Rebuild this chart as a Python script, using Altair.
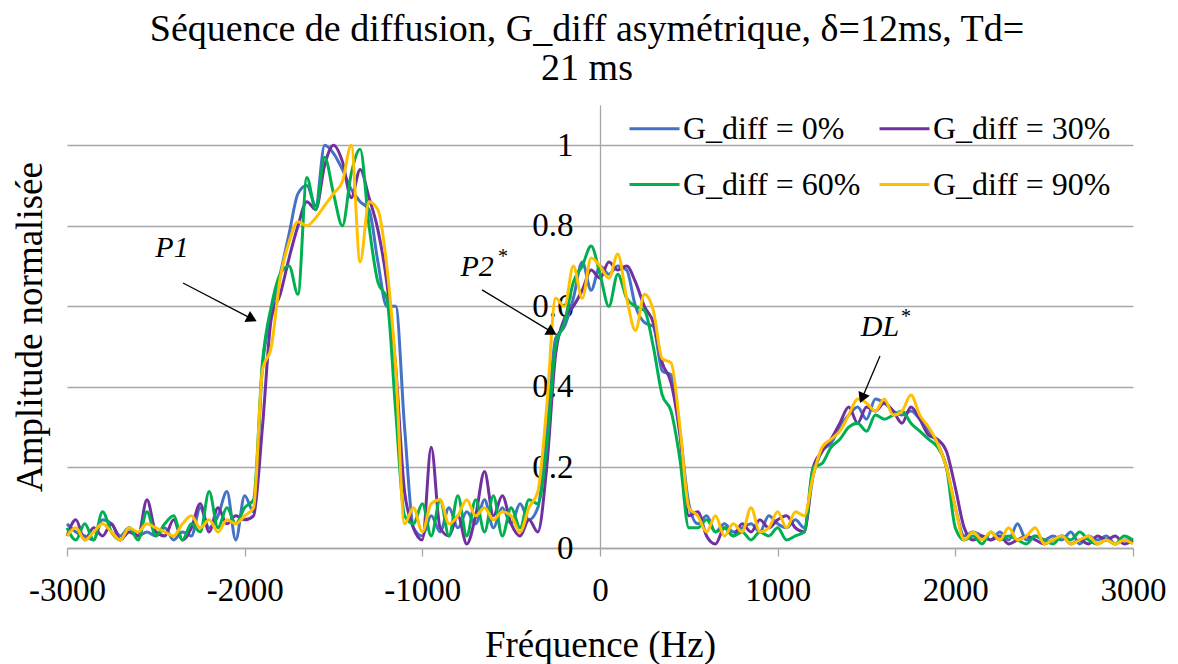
import altair as alt
import pandas as pd

# ---------------- data ----------------
freq = list(range(-3000, 3001, 50))

g0 = [
    0.06, 0.04, 0.03, 0.02, 0.07, 0.06, 0.03, 0.05, 0.03, 0.04,
    0.03, 0.05, 0.02, 0.04, 0.03, 0.10, 0.05, 0.08, 0.14, 0.02,
    0.13, 0.09, 0.45, 0.58, 0.68, 0.78, 0.88, 0.90, 0.85, 1.00,
    0.98, 0.94, 0.89, 0.86, 0.84, 0.71, 0.60, 0.60, 0.30, 0.05,
    0.03, 0.08, 0.04, 0.10, 0.05, 0.09, 0.06, 0.12, 0.05, 0.10,
    0.06, 0.11, 0.07, 0.10, 0.28, 0.52, 0.55, 0.62, 0.71, 0.64,
    0.70, 0.68, 0.70, 0.69, 0.60, 0.56, 0.55, 0.44, 0.43, 0.29,
    0.11, 0.06, 0.08, 0.04, 0.06, 0.04, 0.05, 0.06, 0.04, 0.08,
    0.06, 0.05, 0.07, 0.05, 0.18, 0.24, 0.26, 0.30, 0.33, 0.35,
    0.32, 0.37, 0.36, 0.34, 0.33, 0.34, 0.32, 0.29, 0.26, 0.20,
    0.10, 0.03, 0.04, 0.03, 0.02, 0.04, 0.02, 0.06, 0.02, 0.03,
    0.02, 0.03, 0.02, 0.04, 0.01, 0.03, 0.02, 0.03, 0.01, 0.02,
    0.02,
]
g30 = [
    0.03, 0.07, 0.02, 0.05, 0.03, 0.06, 0.02, 0.04, 0.03, 0.12,
    0.04, 0.03, 0.07, 0.02, 0.05, 0.11, 0.04, 0.10, 0.06, 0.08,
    0.07, 0.08, 0.30, 0.57, 0.63, 0.72, 0.80, 0.86, 0.84, 0.95,
    1.00, 0.96, 0.87, 0.94, 0.87, 0.79, 0.66, 0.45, 0.14, 0.05,
    0.02, 0.25, 0.05, 0.03, 0.08, 0.01, 0.08, 0.19, 0.08, 0.13,
    0.06, 0.03, 0.07, 0.04, 0.20, 0.48, 0.57, 0.60, 0.64, 0.69,
    0.67, 0.71, 0.69, 0.70, 0.66, 0.60, 0.56, 0.46, 0.41, 0.28,
    0.08, 0.09, 0.03, 0.01, 0.05, 0.03, 0.06, 0.04, 0.07, 0.05,
    0.07, 0.08, 0.05, 0.04, 0.20, 0.24, 0.27, 0.31, 0.35, 0.31,
    0.35, 0.34, 0.36, 0.34, 0.31, 0.35, 0.32, 0.28, 0.27, 0.24,
    0.15, 0.05, 0.02, 0.03, 0.02, 0.03, 0.01, 0.02, 0.03, 0.02,
    0.01, 0.02, 0.03, 0.01, 0.02, 0.01, 0.03, 0.02, 0.03, 0.01,
    0.02,
]
g60 = [
    0.05, 0.02, 0.06, 0.02, 0.09, 0.04, 0.02, 0.05, 0.02, 0.09,
    0.03, 0.06, 0.08, 0.02, 0.06, 0.04, 0.14, 0.05, 0.10, 0.06,
    0.10, 0.12, 0.46, 0.60, 0.68, 0.70, 0.63, 0.92, 0.84, 0.97,
    0.88, 0.80, 0.93, 0.99, 0.80, 0.66, 0.62, 0.34, 0.08, 0.06,
    0.11, 0.03, 0.12, 0.03, 0.13, 0.03, 0.12, 0.04, 0.13, 0.03,
    0.10, 0.05, 0.12, 0.11, 0.25, 0.50, 0.56, 0.66, 0.70, 0.75,
    0.68, 0.60, 0.68, 0.62, 0.60, 0.59, 0.50, 0.38, 0.34, 0.22,
    0.05, 0.05, 0.07, 0.04, 0.05, 0.03, 0.04, 0.02, 0.04, 0.03,
    0.05, 0.02, 0.03, 0.04, 0.20, 0.21, 0.25, 0.27, 0.30, 0.31,
    0.29, 0.33, 0.32, 0.33, 0.34, 0.31, 0.29, 0.27, 0.25, 0.20,
    0.05, 0.02, 0.03, 0.01, 0.04, 0.02, 0.03, 0.02, 0.01, 0.03,
    0.02, 0.01, 0.03, 0.02, 0.04, 0.02, 0.01, 0.02, 0.01, 0.03,
    0.02,
]
g90 = [
    0.03, 0.05, 0.02, 0.04, 0.06, 0.04, 0.02, 0.05, 0.04, 0.06,
    0.05, 0.04, 0.03, 0.06, 0.08, 0.05, 0.07, 0.04, 0.07, 0.06,
    0.08, 0.10, 0.44, 0.50, 0.67, 0.76, 0.81, 0.80, 0.82, 0.85,
    0.88, 0.91, 1.00, 0.71, 0.86, 0.84, 0.70, 0.45, 0.06, 0.10,
    0.04, 0.11, 0.12, 0.06, 0.08, 0.12, 0.08, 0.10, 0.07, 0.09,
    0.08, 0.04, 0.10, 0.14, 0.35, 0.62, 0.60, 0.70, 0.62, 0.72,
    0.70, 0.67, 0.73, 0.62, 0.54, 0.63, 0.59, 0.47, 0.46, 0.30,
    0.10, 0.08, 0.04, 0.08, 0.03, 0.06, 0.04, 0.10, 0.04, 0.05,
    0.09, 0.05, 0.09, 0.08, 0.18, 0.25, 0.27, 0.29, 0.33, 0.37,
    0.36, 0.34, 0.37, 0.33, 0.34, 0.38, 0.33, 0.30, 0.26, 0.20,
    0.10, 0.02, 0.04, 0.02, 0.04, 0.02, 0.05, 0.02, 0.03, 0.05,
    0.01, 0.02, 0.03, 0.01, 0.02, 0.03, 0.01, 0.02, 0.01, 0.02,
    0.01,
]

series_names = ["G_diff = 0%", "G_diff = 30%", "G_diff = 60%", "G_diff = 90%"]
series_colors = ["#4472C4", "#7030A0", "#00B050", "#FFC000"]

x_ticks = [-3000, -2000, -1000, 0, 1000, 2000, 3000]
y_ticks = [0, 0.2, 0.4, 0.6, 0.8, 1]

title_lines = ["Séquence de diffusion, G_diff asymétrique, δ=12ms, Td=", "21 ms"]
x_title = "Fréquence (Hz)"
y_title = "Amplitude normalisée"

# annotations (data units)
ann_labels = ["P1", "P2", "DL"]
ann_x = [-2409, -692, 1576]
ann_y = [0.745, 0.697, 0.549]
star_x = [-546, 1722]
star_y = [0.723, 0.574]
arrow_x0 = [-2347, -664, 1576]
arrow_y0 = [0.658, 0.641, 0.477]
arrow_x1 = [-1959, -270, 1475]
arrow_y1 = [0.569, 0.536, 0.372]
arrow_angle = [117, 120, 203]

# ---------------- build ----------------
rows = []
for name, vals in zip(series_names, [g0, g30, g60, g90]):
    for f, v in zip(freq, vals):
        rows.append({"freq": f, "amp": v, "serie": name})
df = pd.DataFrame(rows)

FONT = "Liberation Serif"
GRID = "#A6A6A6"

x_scale = alt.Scale(domain=[-3000, 3000], nice=False, zero=False)
y_scale = alt.Scale(domain=[0, 1.1], nice=False, zero=False)

x_axis = alt.Axis(
    orient="bottom",
    values=x_ticks, labelExpr="'' + datum.value", grid=False, labelFlush=False,
    domainColor=GRID, domainWidth=1.3, tickColor=GRID, tickWidth=1.3, tickSize=8,
    labelFont=FONT, labelFontSize=33, labelColor="black", labelPadding=18,
    title=x_title, titleFont=FONT, titleFontSize=37, titleFontWeight="normal",
    titleColor="black", titlePadding=20,
)
y_axis_grid = alt.Axis(
    orient="left", values=y_ticks, grid=True, gridColor=GRID, gridWidth=1.3,
    labels=False, ticks=False, domain=False,
    title=y_title, titleFont=FONT, titleFontSize=37, titleFontWeight="normal",
    titleColor="black", titlePadding=18,
)
y_axis_center = alt.Axis(
    orient="left", offset=-533, values=y_ticks, format="~g", grid=False,
    ticks=False, domain=True, domainColor=GRID, domainWidth=1.3,
    labelFont=FONT, labelFontSize=33, labelColor="black", labelPadding=27,
    title=None,
)

lines = alt.Chart(df).mark_line(strokeWidth=3, interpolate="monotone").encode(
    x=alt.X("freq:Q", scale=x_scale, axis=x_axis),
    y=alt.Y("amp:Q", scale=y_scale, axis=y_axis_grid),
    color=alt.Color(
        "serie:N",
        scale=alt.Scale(domain=series_names, range=series_colors),
        legend=alt.Legend(
            title=None, orient="none", legendX=561, legendY=-3, columns=2,
            direction="horizontal",
            symbolType="stroke", symbolSize=2500, symbolStrokeWidth=3,
            labelFont=FONT, labelFontSize=32, labelColor="black", labelOffset=2,
            rowPadding=13, columnPadding=12, padding=0, labelLimit=400,
        ),
    ),
    detail="serie:N",
)

center_axis = alt.Chart(pd.DataFrame({"amp": y_ticks})).mark_point(opacity=0).encode(
    y=alt.Y("amp:Q", scale=y_scale, axis=y_axis_center),
)

ann_df = pd.DataFrame({"ax": ann_x, "ay": ann_y, "label": ann_labels})
texts = alt.Chart(ann_df).mark_text(
    font=FONT, fontStyle="italic", fontSize=30, color="black"
).encode(
    x=alt.X("ax:Q", scale=x_scale, axis=None),
    y=alt.Y("ay:Q", scale=y_scale, axis=None),
    text="label:N",
)

star_df = pd.DataFrame({"sx": star_x, "sy": star_y, "s": ["*", "*"]})
stars = alt.Chart(star_df).mark_text(
    font=FONT, fontSize=20, color="black"
).encode(
    x=alt.X("sx:Q", scale=x_scale, axis=None),
    y=alt.Y("sy:Q", scale=y_scale, axis=None),
    text="s:N",
)

arr_df = pd.DataFrame({
    "x0": arrow_x0, "y0": arrow_y0, "x1": arrow_x1, "y1": arrow_y1, "ang": arrow_angle,
})
arrow_lines = alt.Chart(arr_df).mark_rule(color="black", strokeWidth=1.3).encode(
    x=alt.X("x0:Q", scale=x_scale, axis=None),
    y=alt.Y("y0:Q", scale=y_scale, axis=None),
    x2="x1:Q",
    y2="y1:Q",
)
arrow_heads = alt.Chart(arr_df).mark_point(
    shape="triangle-up", filled=True, color="black", opacity=1, size=150
).encode(
    x=alt.X("x1:Q", scale=x_scale, axis=None),
    y=alt.Y("y1:Q", scale=y_scale, axis=None),
    angle=alt.Angle("ang:Q", scale=None),
)

chart = alt.layer(
    lines, center_axis, arrow_lines, arrow_heads, texts, stars
).resolve_axis(y="independent", x="independent").resolve_scale(
    y="shared", x="shared"
).properties(
    width=1066,
    height=443,
    padding={"left": 59, "top": 97, "right": 37, "bottom": 116},
    autosize=alt.AutoSizeParams(type="none"),
    title=alt.TitleParams(
        text=title_lines, font=FONT, fontSize=38, fontWeight="normal", color="black",
        anchor="middle", frame="group", offset=14, lineHeight=39, dx=-13,
    ),
).configure(background="white").configure_view(stroke=None)

chart.save("out.html", embed_options={"renderer": "svg", "actions": False})
